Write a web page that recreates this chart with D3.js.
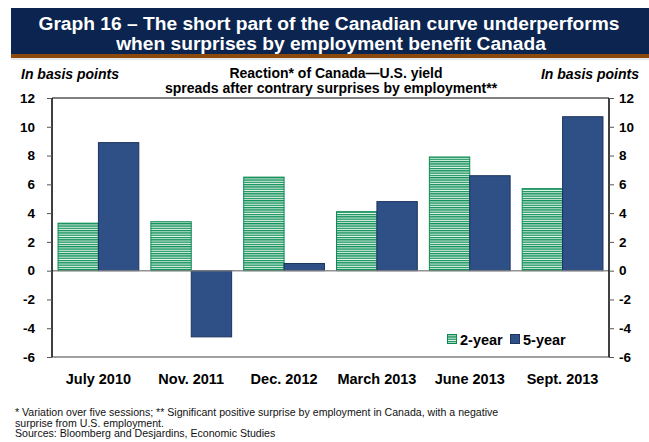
<!DOCTYPE html>
<html>
<head>
<meta charset="utf-8">
<script src="https://cdn.jsdelivr.net/npm/d3@7"></script>
<style>
  html, body { margin: 0; padding: 0; background: #fff; }
  svg { display: block; font-family: "Liberation Sans", Arial, sans-serif; }
</style>
</head>
<body>
<svg id="chart" width="649" height="442"></svg>
<script>
// Reaction of Canada–U.S. yield spreads (basis points) after contrary employment surprises
const categories = ["July 2010", "Nov. 2011", "Dec. 2012", "March 2013", "June 2013", "Sept. 2013"];
const twoYear = [3.3, 3.4, 6.5, 4.1, 7.9, 5.7];
const fiveYear = [8.9, -4.6, 0.5, 4.8, 6.6, 10.7];
const seriesNames = ["2-year", "5-year"];
const yTicks = [-6, -4, -2, 0, 2, 4, 6, 8, 10, 12];

const svg = d3.select("#chart");
const W = 649, H = 442;
const m = { left: 52, right: 609, top: 98, bottom: 357 };

const navy = "#0b2550", brown = "#8b4a0c";
const greenLine = "#11925a", greenEdge = "#0b8a52";
const blueFill = "#2e5087", blueEdge = "#1c345e";

// Striped fill for the 2-year series
const defs = svg.append("defs");
const pat = defs.append("pattern")
  .attr("id", "stripes").attr("patternUnits", "userSpaceOnUse")
  .attr("width", 8).attr("height", 2.3);
pat.append("rect").attr("width", 8).attr("height", 2.3).attr("fill", "#e4f3ea");
pat.append("rect").attr("width", 8).attr("height", 1.3).attr("fill", greenLine);

// Title banner
svg.append("rect").attr("x", 11).attr("y", 8).attr("width", W - 11).attr("height", 46).attr("fill", navy);
svg.append("rect").attr("x", 11).attr("y", 54).attr("width", W - 11).attr("height", 4).attr("fill", brown);
svg.append("rect").attr("x", 11).attr("y", 58).attr("width", W - 11).attr("height", 2).attr("fill", "#e8e8e8");
const title = svg.append("text").attr("fill", "#fff").attr("font-weight", "bold")
  .attr("font-size", 19.2).attr("text-anchor", "middle");
title.append("tspan").attr("x", 329).attr("y", 30)
  .text("Graph 16 \u2013 The short part of the Canadian curve underperforms");
title.append("tspan").attr("x", 331).attr("y", 50)
  .text("when surprises by employment benefit Canada");

// Units and subtitle
svg.append("text").attr("x", 21).attr("y", 79).attr("font-size", 14)
  .attr("font-weight", "bold").attr("font-style", "italic").text("In basis points");
svg.append("text").attr("x", 639).attr("y", 79).attr("font-size", 14).attr("text-anchor", "end")
  .attr("font-weight", "bold").attr("font-style", "italic").text("In basis points");
const sub = svg.append("text").attr("font-size", 14).attr("font-weight", "bold").attr("text-anchor", "middle");
sub.append("tspan").attr("x", 336).attr("y", 78).text("Reaction* of Canada\u2014U.S. yield");
sub.append("tspan").attr("x", 331).attr("y", 93).text("spreads after contrary surprises by employment**");

// Scales
const x = d3.scaleBand().domain(categories).range([m.left, m.right]).paddingInner(0.13).paddingOuter(0.065);
const xs = d3.scaleBand().domain(seriesNames).range([0, x.bandwidth()]);
const y = d3.scaleLinear().domain([-6, 12]).range([m.bottom, m.top]);

// Frame lines: top border, bottom line at -6
svg.append("line").attr("x1", m.left).attr("x2", m.right).attr("y1", y(12)).attr("y2", y(12))
  .attr("stroke", "#000").attr("stroke-width", 1.2);
svg.append("line").attr("x1", m.left).attr("x2", m.right).attr("y1", y(-6)).attr("y2", y(-6))
  .attr("stroke", "#808080").attr("stroke-width", 1.5);

// Bars
const rows = categories.map((c, i) => ({ c, v: [twoYear[i], fiveYear[i]] }));
const groups = svg.append("g").selectAll("g").data(rows).join("g")
  .attr("transform", d => `translate(${x(d.c)},0)`);
groups.selectAll("rect").data(d => d.v.map((v, k) => ({ k, v }))).join("rect")
  .attr("x", d => xs(seriesNames[d.k]))
  .attr("width", xs.bandwidth())
  .attr("y", d => y(Math.max(0, d.v)))
  .attr("height", d => Math.abs(y(d.v) - y(0)))
  .attr("fill", d => d.k === 0 ? "url(#stripes)" : blueFill)
  .attr("stroke", d => d.k === 0 ? greenEdge : blueEdge)
  .attr("stroke-width", 1);

// Zero line
svg.append("line").attr("x1", m.left).attr("x2", m.right).attr("y1", y(0)).attr("y2", y(0))
  .attr("stroke", "#808080").attr("stroke-width", 1.5).attr("opacity", 0.85);

// Axes (plain hyphen for negative labels)
const fmt = d => String(d);
const yl = svg.append("g").attr("transform", `translate(${m.left},0)`)
  .call(d3.axisLeft(y).tickValues(yTicks).tickFormat(fmt).tickSize(5).tickPadding(12));
const yr = svg.append("g").attr("transform", `translate(${m.right},0)`)
  .call(d3.axisRight(y).tickValues(yTicks).tickFormat(fmt).tickSize(5).tickPadding(5));
[yl, yr].forEach(g => {
  g.select(".domain").attr("stroke", "#000").attr("stroke-width", 1.5)
    .attr("d", `M0,${y(12)}V${y(-6)}`);
  g.selectAll(".tick line").attr("stroke", "#555");
  g.selectAll(".tick text").attr("font-size", 13.5).attr("font-weight", "bold")
    .attr("font-family", "Liberation Sans, Arial, sans-serif").attr("fill", "#000");
});

// Category labels
svg.append("g").selectAll("text").data(categories).join("text")
  .attr("x", d => x(d) + x.bandwidth() / 2).attr("y", 384)
  .attr("text-anchor", "middle").attr("font-size", 14.5).attr("font-weight", "bold").text(d => d);

// Legend
const lg = svg.append("g").attr("transform", "translate(447,334)");
lg.append("rect").attr("x", 0.5).attr("y", 0.5).attr("width", 9).attr("height", 9)
  .attr("fill", "url(#stripes)").attr("stroke", greenEdge);
lg.append("text").attr("x", 13).attr("y", 10.5).attr("font-size", 14.5).attr("font-weight", "bold").text(seriesNames[0]);
lg.append("rect").attr("x", 63.5).attr("y", 0.5).attr("width", 9).attr("height", 9)
  .attr("fill", blueFill).attr("stroke", blueEdge);
lg.append("text").attr("x", 76).attr("y", 10.5).attr("font-size", 14.5).attr("font-weight", "bold").text(seriesNames[1]);

// Footnotes
const notes = [
  "* Variation over five sessions; ** Significant positive surprise by employment in Canada, with a negative",
  "surprise from U.S. employment.",
  "Sources: Bloomberg and Desjardins, Economic Studies"
];
svg.append("g").selectAll("text").data(notes).join("text")
  .attr("x", 15).attr("y", (d, i) => 416 + i * 10.5).attr("font-size", 10.6).attr("fill", "#111").text(d => d);
</script>
</body>
</html>
